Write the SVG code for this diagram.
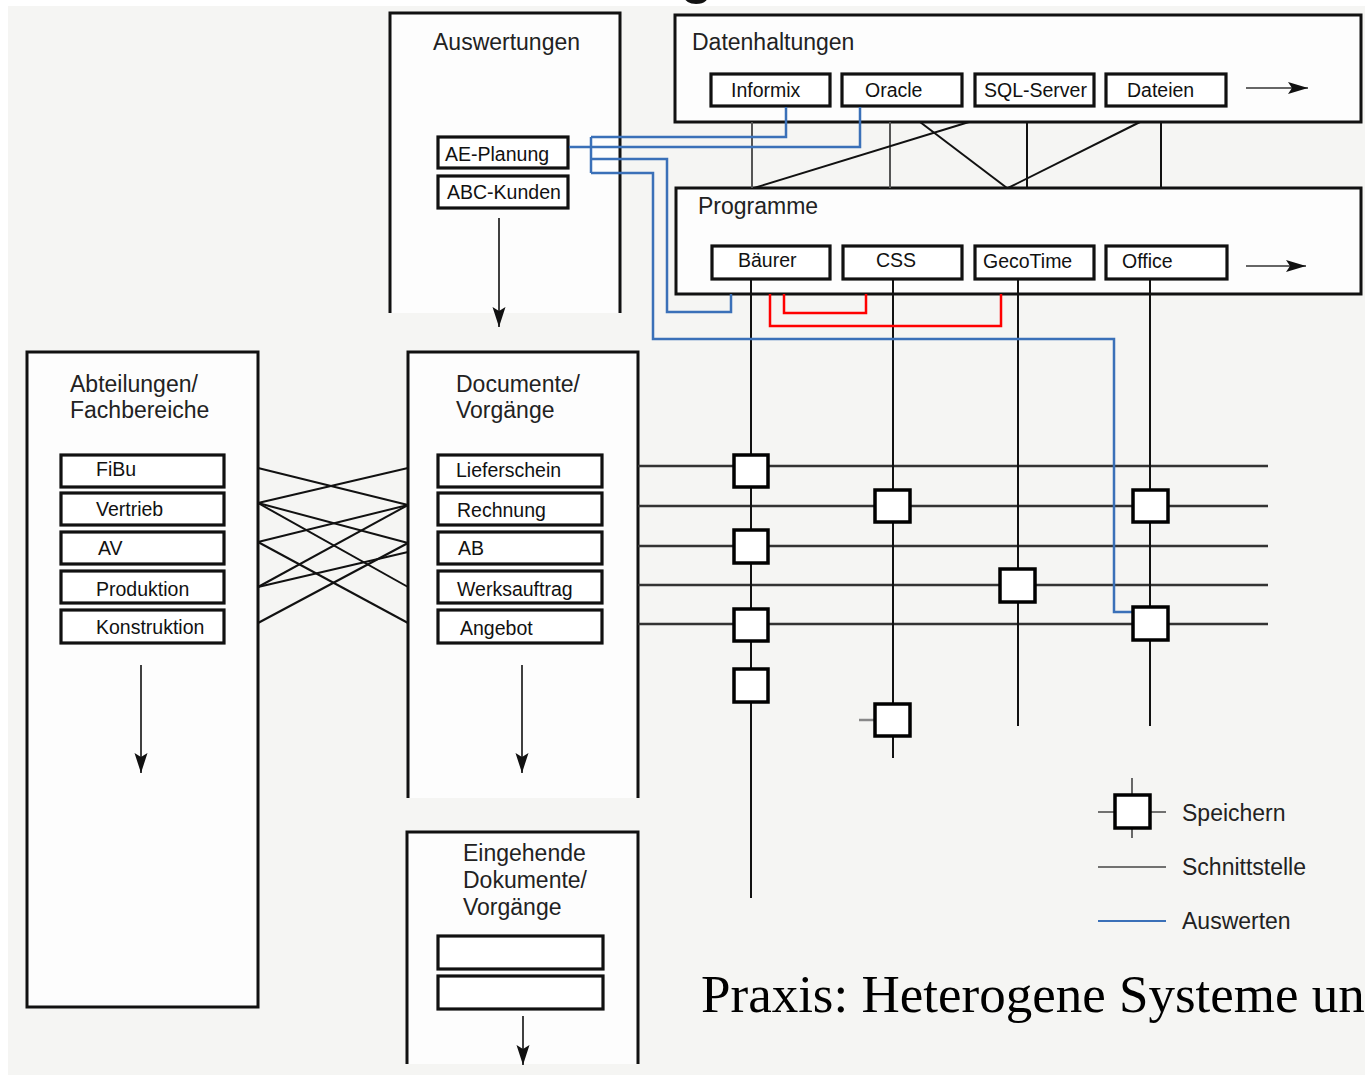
<svg xmlns="http://www.w3.org/2000/svg" width="1365" height="1077" viewBox="0 0 1365 1077">
<style>
 .bg{fill:#f5f5f3}
 .fill{fill:#fdfdfd;stroke:none}
 .box{fill:#fdfdfd;stroke:#111;stroke-width:3}
 .side{fill:none;stroke:#111;stroke-width:3}
 .ibox{fill:#fff;stroke:#111;stroke-width:3.2}
 .title{font-family:"Liberation Sans",Arial,sans-serif;font-size:23px;fill:#222}
 .lbl{font-family:"Liberation Sans",Arial,sans-serif;font-size:19.5px;fill:#111}
 .leg{font-family:"Liberation Sans",Arial,sans-serif;font-size:23px;fill:#222}
 .sq{fill:#fff;stroke:#000;stroke-width:3.5}
 .ln{stroke:#111;stroke-width:2;fill:none}
 .gl{stroke:#555;stroke-width:2;fill:none}
 .grid{stroke:#333;stroke-width:2.6;fill:none}
 .blue{stroke:#3a70b8;stroke-width:2.5;fill:none}
 .red{stroke:#f00;stroke-width:2.5;fill:none}
 .arr{stroke:#111;stroke-width:1.6;fill:none}
</style>
<defs>
 <marker id="ah" markerUnits="userSpaceOnUse" markerWidth="22" markerHeight="16" refX="20" refY="7" orient="auto">
  <path d="M0,0.5 L20,7 L0,13.5 L4,7 z" fill="#111"/>
 </marker>
 <marker id="ahs" markerUnits="userSpaceOnUse" markerWidth="22" markerHeight="14" refX="20" refY="6" orient="auto">
  <path d="M0,0 L20,6 L0,12 L4,6 z" fill="#111"/>
 </marker>
</defs>
<rect x="0" y="0" width="1365" height="1077" fill="#ffffff"/>
<rect class="bg" x="8" y="6" width="1357" height="1069"/>
<text x="680" y="-8" font-family="'Liberation Sans',Arial,sans-serif" font-size="60" fill="#111">g</text>

<g id="auswertungen">
 <rect class="fill" x="390" y="13" width="230" height="300"/>
 <path class="side" d="M390,313 V13 H620 V313"/>
 <text class="title" x="433" y="50">Auswertungen</text>
 <rect class="ibox" x="438" y="137" width="130" height="31"/>
 <text class="lbl" x="445" y="161">AE-Planung</text>
 <rect class="ibox" x="438" y="176" width="130" height="32"/>
 <text class="lbl" x="447" y="199">ABC-Kunden</text>
</g>

<g id="datenhaltungen">
 <rect class="box" x="675" y="15" width="686" height="107"/>
 <text class="title" x="692" y="50">Datenhaltungen</text>
 <g id="informix"><rect class="ibox" x="711" y="74" width="119" height="32"/><text class="lbl" x="731" y="97">Informix</text></g>
 <g id="oracle"><rect class="ibox" x="842" y="74" width="120" height="32"/><text class="lbl" x="865" y="97">Oracle</text></g>
 <g id="sqlserver"><rect class="ibox" x="975" y="74" width="119" height="32"/><text class="lbl" x="984" y="97">SQL-Server</text></g>
 <g id="dateien"><rect class="ibox" x="1106" y="74" width="120" height="32"/><text class="lbl" x="1127" y="97">Dateien</text></g>
</g>

<g id="programme">
 <rect class="box" x="676" y="188" width="685" height="106"/>
 <text class="title" x="698" y="214">Programme</text>
 <g id="baeurer"><rect class="ibox" x="712" y="246" width="118" height="33"/><text class="lbl" x="738" y="267">Bäurer</text></g>
 <g id="css"><rect class="ibox" x="843" y="246" width="119" height="33"/><text class="lbl" x="876" y="267">CSS</text></g>
 <g id="gecotime"><rect class="ibox" x="975" y="246" width="119" height="33"/><text class="lbl" x="983" y="268">GecoTime</text></g>
 <g id="office"><rect class="ibox" x="1106" y="246" width="121" height="33"/><text class="lbl" x="1122" y="268">Office</text></g>
</g>

<g id="abteilungen">
 <rect class="box" x="27" y="352" width="231" height="655"/>
 <text class="title" x="70" y="392">Abteilungen/</text>
 <text class="title" x="70" y="418">Fachbereiche</text>
 <rect class="ibox" x="61" y="455" width="163" height="32"/><text class="lbl" x="96" y="476">FiBu</text>
 <rect class="ibox" x="61" y="493" width="163" height="32"/><text class="lbl" x="96" y="516">Vertrieb</text>
 <rect class="ibox" x="61" y="532" width="163" height="32"/><text class="lbl" x="98" y="555">AV</text>
 <rect class="ibox" x="61" y="571" width="163" height="32"/><text class="lbl" x="96" y="596">Produktion</text>
 <rect class="ibox" x="61" y="610" width="163" height="33"/><text class="lbl" x="96" y="634">Konstruktion</text>
</g>

<g id="documente">
 <rect class="fill" x="408" y="352" width="230" height="446"/>
 <path class="side" d="M408,798 V352 H638 V798"/>
 <text class="title" x="456" y="392">Documente/</text>
 <text class="title" x="456" y="418">Vorgänge</text>
 <rect class="ibox" x="438" y="455" width="164" height="32"/><text class="lbl" x="456" y="477">Lieferschein</text>
 <rect class="ibox" x="438" y="493" width="164" height="32"/><text class="lbl" x="457" y="517">Rechnung</text>
 <rect class="ibox" x="438" y="532" width="164" height="32"/><text class="lbl" x="458" y="555">AB</text>
 <rect class="ibox" x="438" y="571" width="164" height="32"/><text class="lbl" x="457" y="596">Werksauftrag</text>
 <rect class="ibox" x="438" y="610" width="164" height="33"/><text class="lbl" x="460" y="635">Angebot</text>
</g>

<g id="eingehende">
 <rect class="fill" x="407" y="832" width="231" height="232"/>
 <path class="side" d="M407,1064 V832 H638 V1064"/>
 <text class="title" x="463" y="861">Eingehende</text>
 <text class="title" x="463" y="888">Dokumente/</text>
 <text class="title" x="463" y="915">Vorgänge</text>
 <rect class="ibox" x="438" y="936" width="165" height="33"/>
 <rect class="ibox" x="438" y="976" width="165" height="33"/>
</g>

<g id="connectors">
 <line class="gl" x1="752" y1="122" x2="752" y2="188"/>
 <line class="gl" x1="890" y1="122" x2="890" y2="188"/>
 <line class="ln" x1="1027" y1="122" x2="1027" y2="188"/>
 <line class="ln" x1="1161" y1="122" x2="1161" y2="188"/>
 <line class="ln" x1="920" y1="122" x2="1007" y2="188"/>
 <line class="ln" x1="969" y1="122" x2="754" y2="188"/>
 <line class="ln" x1="1140" y1="122" x2="1008" y2="188"/>
 <line class="ln" x1="258" y1="468" x2="408" y2="505"/>
 <line class="ln" x1="258" y1="503" x2="408" y2="468"/>
 <line class="ln" x1="258" y1="503" x2="408" y2="543"/>
 <line class="ln" x1="258" y1="503" x2="408" y2="587"/>
 <line class="ln" x1="258" y1="542" x2="408" y2="505"/>
 <line class="ln" x1="258" y1="542" x2="408" y2="623"/>
 <line class="ln" x1="258" y1="587" x2="408" y2="505"/>
 <line class="ln" x1="258" y1="587" x2="408" y2="552"/>
 <line class="ln" x1="258" y1="623" x2="408" y2="543"/>
 <line class="grid" x1="638" y1="466" x2="1268" y2="466"/>
 <line class="grid" x1="638" y1="506" x2="1268" y2="506"/>
 <line class="grid" x1="638" y1="546" x2="1268" y2="546"/>
 <line class="grid" x1="638" y1="585" x2="1268" y2="585"/>
 <line class="grid" x1="638" y1="624" x2="1268" y2="624"/>
 <line class="ln" x1="751" y1="279" x2="751" y2="898"/>
 <line class="ln" x1="893" y1="279" x2="893" y2="758"/>
 <line class="ln" x1="1018" y1="279" x2="1018" y2="726"/>
 <line class="ln" x1="1150" y1="279" x2="1150" y2="726"/>
 <line stroke="#888" stroke-width="2.5" x1="859" y1="720" x2="876" y2="720"/>
 <path class="blue" d="M591,137 H786 V107"/>
 <path class="blue" d="M569,147 H860 V107"/>
 <path class="blue" d="M591,137 V173"/>
 <path class="blue" d="M591,159 H667 V312 H731 V294"/>
 <path class="blue" d="M591,173 H653 V339 H1114 V612 H1133"/>
 <path class="red" d="M784,294 V313 H866 V294"/>
 <path class="red" d="M770,294 V326 H1001 V294"/>
 <line class="arr" x1="499" y1="218" x2="499" y2="327" marker-end="url(#ah)"/>
 <line class="arr" x1="141" y1="665" x2="141" y2="773" marker-end="url(#ah)"/>
 <line class="arr" x1="522" y1="665" x2="522" y2="773" marker-end="url(#ah)"/>
 <line class="arr" x1="523" y1="1016" x2="523" y2="1065" marker-end="url(#ah)"/>
 <line stroke="#666" stroke-width="2" x1="1246" y1="88" x2="1308" y2="88" marker-end="url(#ahs)"/>
 <line stroke="#666" stroke-width="2" x1="1246" y1="266" x2="1306" y2="266" marker-end="url(#ahs)"/>
</g>

<g id="speicher">
 <rect class="sq" x="734" y="455" width="34" height="32"/>
 <rect class="sq" x="734" y="530" width="34" height="33"/>
 <rect class="sq" x="734" y="609" width="34" height="32"/>
 <rect class="sq" x="734" y="669" width="34" height="33"/>
 <rect class="sq" x="875" y="490" width="35" height="32"/>
 <rect class="sq" x="875" y="704" width="35" height="32"/>
 <rect class="sq" x="1000" y="569" width="35" height="33"/>
 <rect class="sq" x="1133" y="490" width="35" height="32"/>
 <rect class="sq" x="1133" y="607" width="35" height="33"/>
</g>

<g id="legend">
 <line stroke="#444" stroke-width="1.6" x1="1132" y1="778" x2="1132" y2="838"/>
 <line stroke="#444" stroke-width="1.6" x1="1098" y1="812" x2="1166" y2="812"/>
 <rect class="sq" x="1115" y="795" width="35" height="33"/>
 <text class="leg" x="1182" y="821">Speichern</text>
 <line stroke="#444" stroke-width="1.6" x1="1098" y1="867" x2="1166" y2="867"/>
 <text class="leg" x="1182" y="875">Schnittstelle</text>
 <line stroke="#3a70b8" stroke-width="1.8" x1="1098" y1="921" x2="1166" y2="921"/>
 <text class="leg" x="1182" y="929">Auswerten</text>
</g>

<text x="701" y="1012" font-family="'Liberation Serif','Times New Roman',serif" font-size="53" fill="#000">Praxis: Heterogene Systeme un</text>
</svg>
